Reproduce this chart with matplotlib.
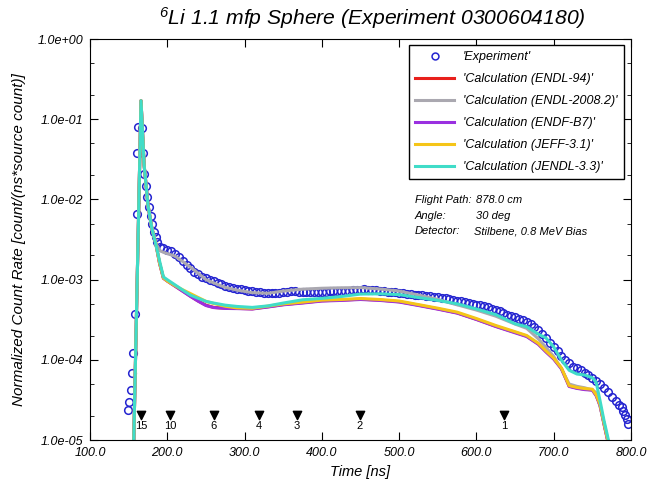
import numpy as np
import matplotlib
matplotlib.use('Agg')
import matplotlib.pyplot as plt
from matplotlib.ticker import LogLocator, FuncFormatter, MultipleLocator, NullLocator

plt.rcParams['font.family'] = ['Liberation Sans', 'DejaVu Sans']
plt.rcParams['font.style'] = 'italic'
plt.rcParams['mathtext.fontset'] = 'custom'
plt.rcParams['mathtext.rm'] = 'Liberation Sans:italic'
plt.rcParams['mathtext.it'] = 'Liberation Sans:italic'

# experiment (time in ns, normalized count rate)
t_exp = [149.2, 150.5, 152.7, 154.0, 155.6, 158.2, 160.4, 161.3, 162.5, 166.9, 169.0, 169.9,
         172.5, 174.1, 176.3, 178.5, 180.6, 183.2, 185.4, 187.1,
         190, 195, 200, 205, 210, 215, 220, 225, 230, 235, 240, 245, 250, 255, 260, 265,
         270, 275, 280, 285, 290, 295, 300, 305, 310, 315, 320, 325, 330, 335, 340, 345,
         350, 355, 360, 365, 370, 375, 380, 385, 390, 395, 400, 405, 410, 415, 420, 425,
         430, 435, 440, 445, 450, 455, 460, 465, 470, 475, 480, 485, 490, 495, 500, 505,
         510, 515, 520, 525, 530, 535, 540, 545, 550, 555, 560, 565, 570, 575, 580, 585,
         590, 595, 600, 605, 610, 615, 620, 625, 630, 635, 640, 645, 650, 655, 660, 665,
         670, 675, 680, 685, 690, 695, 700, 705, 710, 715, 720, 725, 730, 735, 740, 745,
         750, 755, 760, 765, 770, 775, 780, 785, 788, 790, 792, 794.5, 796.5]
y_exp = [2.4e-5, 3.0e-5, 4.2e-5, 6.9e-5, 1.2e-4, 3.7e-4, 6.6e-3, 3.8e-2, 8.0e-2, 7.7e-2, 3.8e-2, 2.1e-2,
         1.47e-2, 1.08e-2, 8.1e-3, 6.2e-3, 4.9e-3, 3.96e-3, 3.43e-3, 2.97e-3,
         2.55e-3, 2.48e-3, 2.37e-3, 2.27e-3, 2.08e-3, 1.91e-3, 1.71e-3, 1.52e-3, 1.38e-3, 1.26e-3,
         1.17e-3, 1.09e-3, 1.05e-3, 9.9e-4, 9.5e-4, 9.1e-4, 8.7e-4, 8.4e-4, 8.2e-4, 7.97e-4,
         7.74e-4, 7.57e-4, 7.4e-4, 7.3e-4, 7.2e-4, 7.06e-4, 6.96e-4, 6.9e-4, 6.77e-4, 6.75e-4,
         6.8e-4, 6.87e-4, 7.05e-4, 7.1e-4, 7.2e-4, 7.15e-4, 7.1e-4, 7.06e-4, 7.06e-4, 7.06e-4,
         7.06e-4, 7.06e-4, 7.06e-4, 7.1e-4, 7.15e-4, 7.2e-4, 7.21e-4, 7.21e-4, 7.25e-4, 7.3e-4,
         7.35e-4, 7.4e-4, 7.47e-4, 7.57e-4, 7.5e-4, 7.4e-4, 7.35e-4, 7.27e-4, 7.2e-4, 7.1e-4,
         7.05e-4, 6.96e-4, 6.85e-4, 6.75e-4, 6.7e-4, 6.6e-4, 6.5e-4, 6.43e-4, 6.37e-4, 6.3e-4,
         6.22e-4, 6.15e-4, 6.04e-4, 5.95e-4, 5.87e-4, 5.74e-4, 5.6e-4, 5.48e-4, 5.36e-4, 5.21e-4,
         5.1e-4, 4.98e-4, 4.89e-4, 4.8e-4, 4.65e-4, 4.5e-4, 4.35e-4, 4.2e-4, 4.03e-4, 3.85e-4,
         3.67e-4, 3.52e-4, 3.39e-4, 3.25e-4, 3.12e-4, 2.98e-4, 2.76e-4, 2.53e-4, 2.32e-4, 2.1e-4,
         1.88e-4, 1.64e-4, 1.44e-4, 1.27e-4, 1.11e-4, 9.9e-5, 9.0e-5, 8.25e-5, 7.8e-5, 7.36e-5,
         6.9e-5, 6.4e-5, 5.97e-5, 5.44e-5, 4.97e-5, 4.5e-5, 3.95e-5, 3.46e-5, 3.08e-5, 2.75e-5,
         2.6e-5, 2.3e-5, 2.05e-5, 1.85e-5, 1.6e-5]

# calculations, common time grid
t_calc = [156, 166, 170, 175, 180, 185, 190, 195, 200, 210, 220, 230, 240, 250, 260, 275,
          290, 310, 330, 350, 375, 400, 425, 450, 475, 500, 525, 550, 575, 600, 625, 650,
          665, 680, 690, 700, 710, 720, 730, 740, 750, 755, 760, 765, 770, 775]
endl94 = [5e-6, 1.7e-1, 2.7e-2, 8.5e-3, 4.4e-3, 2.86e-3, 1.6e-3, 1.04e-3, 9.6e-4, 8.3e-4,
          7.2e-4, 6.2e-4, 5.4e-4, 4.8e-4, 4.5e-4, 4.4e-4, 4.38e-4, 4.32e-4, 4.58e-4, 4.88e-4,
          5.15e-4, 5.45e-4, 5.55e-4, 5.7e-4, 5.55e-4, 5.3e-4, 4.8e-4, 4.32e-4, 3.85e-4, 3.2e-4,
          2.62e-4, 2.2e-4, 1.97e-4, 1.58e-4, 1.27e-4, 1.03e-4, 7.8e-5, 4.7e-5, 4.45e-5, 4.3e-5,
          4.22e-5, 3.6e-5, 2.7e-5, 1.6e-5, 9.7e-6, 5.7e-6]
endl2008 = [5e-6, 1.7e-1, 2.7e-2, 8.5e-3, 4.4e-3, 2.86e-3, 2.31e-3, 2.19e-3, 2.11e-3, 1.96e-3,
            1.68e-3, 1.43e-3, 1.2e-3, 1.0e-3, 9.1e-4, 8.0e-4, 7.4e-4, 6.87e-4, 6.75e-4, 7.2e-4,
            7.6e-4, 7.8e-4, 7.9e-4, 7.95e-4, 7.64e-4, 7.2e-4, 6.43e-4, 5.66e-4, 4.85e-4, 4.17e-4,
            3.5e-4, 2.79e-4, 2.47e-4, 1.83e-4, 1.43e-4, 1.1e-4, 7.7e-5, 4.99e-5, 4.67e-5, 4.48e-5,
            4.2e-5, 3.9e-5, 2.6e-5, 1.64e-5, 1.0e-5, 6e-6]
endfb7 = [5e-6, 1.7e-1, 2.7e-2, 8.5e-3, 4.4e-3, 2.86e-3, 1.6e-3, 1.04e-3, 9.6e-4, 8.3e-4,
          7.15e-4, 6.17e-4, 5.38e-4, 4.75e-4, 4.48e-4, 4.37e-4, 4.35e-4, 4.3e-4, 4.55e-4, 4.85e-4,
          5.1e-4, 5.4e-4, 5.5e-4, 5.65e-4, 5.5e-4, 5.25e-4, 4.75e-4, 4.28e-4, 3.82e-4, 3.18e-4,
          2.6e-4, 2.17e-4, 1.95e-4, 1.56e-4, 1.25e-4, 1.02e-4, 7.7e-5, 4.65e-5, 4.4e-5, 4.25e-5,
          4.18e-5, 3.55e-5, 2.68e-5, 1.58e-5, 9.6e-6, 5.6e-6]
jeff31 = [5e-6, 1.7e-1, 2.7e-2, 8.5e-3, 4.4e-3, 2.86e-3, 1.61e-3, 1.05e-3, 9.6e-4, 8.4e-4,
          7.46e-4, 6.69e-4, 5.98e-4, 5.36e-4, 5.04e-4, 4.65e-4, 4.44e-4, 4.39e-4, 4.67e-4, 4.97e-4,
          5.24e-4, 5.55e-4, 5.65e-4, 5.81e-4, 5.65e-4, 5.41e-4, 4.88e-4, 4.4e-4, 3.93e-4, 3.27e-4,
          2.68e-4, 2.24e-4, 2.01e-4, 1.61e-4, 1.29e-4, 1.05e-4, 7.9e-5, 4.77e-5, 4.52e-5, 4.38e-5,
          4.3e-5, 3.65e-5, 2.76e-5, 1.63e-5, 9.9e-6, 5.8e-6]
jendl33 = [5e-6, 1.7e-1, 2.7e-2, 8.5e-3, 4.4e-3, 2.8e-3, 1.71e-3, 1.08e-3, 9.97e-4, 8.6e-4,
           7.4e-4, 6.4e-4, 5.85e-4, 5.35e-4, 5.1e-4, 4.8e-4, 4.63e-4, 4.5e-4, 4.7e-4, 5.1e-4,
           5.6e-4, 5.83e-4, 6.15e-4, 6.6e-4, 6.65e-4, 6.5e-4, 5.97e-4, 5.5e-4, 4.99e-4, 4.3e-4,
           3.66e-4, 2.81e-4, 2.59e-4, 2.09e-4, 1.87e-4, 1.45e-4, 9.9e-5, 7.4e-5, 6.65e-5, 6.46e-5,
           5.97e-5, 5.2e-5, 3.07e-5, 1.76e-5, 1.08e-5, 6.5e-6]

# energy markers (MeV) at their flight times
t_energy = [166, 204, 260, 319, 368, 449, 636]
energy_labels = ['15', '10', '6', '4', '3', '2', '1']

fig = plt.figure(figsize=(6.48, 4.86), dpi=100)
ax = fig.add_axes([90/648, 1-440/486, 541/648, 401/486])

ax.plot(t_exp, y_exp, 'o', mfc='none', mec='#2424d0', mew=1.1, ms=5.5, label="'Experiment'")
ax.plot(t_calc, endl94, color='#e8201c', lw=2.2, label="'Calculation (ENDL-94)'")
ax.plot(t_calc, endl2008, color='#aaa8b0', lw=2.2, label="'Calculation (ENDL-2008.2)'")
ax.plot(t_calc, endfb7, color='#9a30e0', lw=2.2, label="'Calculation (ENDF-B7)'")
ax.plot(t_calc, jeff31, color='#f5c518', lw=2.2, label="'Calculation (JEFF-3.1)'")
ax.plot(t_calc, jendl33, color='#40dcc8', lw=2.2, label="'Calculation (JENDL-3.3)'")

ax.set_yscale('log')
ax.set_xlim(100, 800)
ax.set_ylim(1e-5, 1)
ax.xaxis.set_major_locator(MultipleLocator(100))
ax.xaxis.set_minor_locator(NullLocator())
ax.xaxis.set_major_formatter(FuncFormatter(lambda v, p: f'{v:.1f}'))
ax.yaxis.set_major_locator(LogLocator(base=10, numticks=10))
ax.yaxis.set_minor_locator(LogLocator(base=10, subs=[2, 5], numticks=10))
ax.yaxis.set_major_formatter(FuncFormatter(lambda v, p: f'{v:.1e}'))
ax.tick_params(which='both', direction='in', top=True, right=True, labelsize=9)
ax.tick_params(which='major', length=6, pad=5)
ax.tick_params(which='minor', length=3)

ax.set_xlabel('Time [ns]', fontsize=10.5, labelpad=4)
ax.set_ylabel('Normalized Count Rate [count/(ns*source count)]', fontsize=11)
ax.yaxis.set_label_coords(-64/541, 0.5)

trans = ax.get_xaxis_transform()
ax.scatter(t_energy, [0.062]*len(t_energy), marker='v', s=36, color='black', transform=trans, zorder=5)
for t, lab in zip(t_energy, energy_labels):
    ax.text(t, 0.036, lab, transform=trans, ha='center', va='center', fontsize=8, style='normal')

leg = fig.legend(loc='upper right', bbox_to_anchor=(623.7/648, 1-45/486), borderaxespad=0,
                 fontsize=9, frameon=True, fancybox=False, framealpha=1, edgecolor='black',
                 handlelength=3.1, handletextpad=0.7, labelspacing=0.8, borderpad=0.5,
                 markerscale=0.9)
leg.get_frame().set_linewidth(1.0)

fig.text(415/648, 1-200/486, 'Flight Path:', fontsize=8, va='center')
fig.text(476/648, 1-200/486, '878.0 cm', fontsize=8, va='center')
fig.text(415/648, 1-216/486, 'Angle:', fontsize=8, va='center')
fig.text(476/648, 1-216/486, '30 deg', fontsize=8, va='center')
fig.text(415/648, 1-231/486, 'Detector:', fontsize=8, va='center')
fig.text(474/648, 1-231/486, 'Stilbene, 0.8 MeV Bias', fontsize=8, va='center')

fig.text(372/648, 1-18/486, '$^{6}$Li 1.1 mfp Sphere (Experiment 0300604180)', fontsize=15.2,
         ha='center', va='center')

plt.savefig('out.png', dpi=100)
